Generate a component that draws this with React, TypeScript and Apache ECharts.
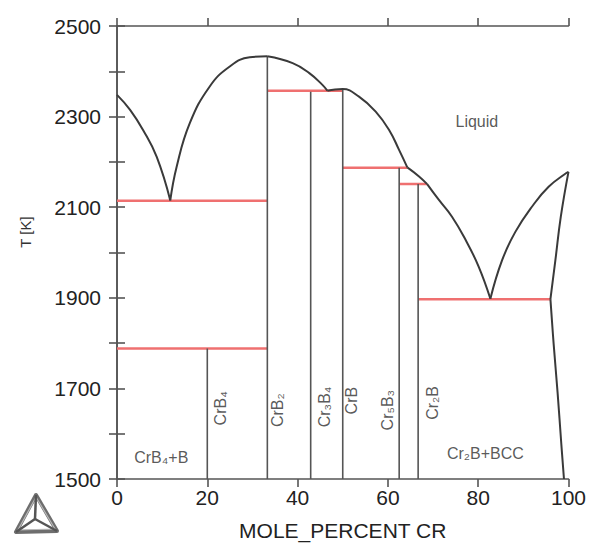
import React, { useEffect, useRef } from "react";
import * as echarts from "echarts";

// ---- Data (MOLE_PERCENT CR vs T [K]) ----
const xLabelValues = [0, 20, 40, 60, 80, 100];
const yLabelValues = [1500, 1700, 1900, 2100, 2300, 2500];

// Liquidus segments
const liquidusB = [[0, 2348], [2.9, 2315], [5.8, 2270], [8.8, 2211], [11.8, 2115]];
const liquidusCrB2Left = [[11.8, 2115], [13.2, 2189], [16.1, 2285], [20.5, 2366], [24.9, 2410], [29.4, 2431], [33.3, 2433]];
const liquidusCrB2Right = [[33.3, 2433], [38.9, 2418], [42.6, 2396], [45.5, 2370], [46.6, 2357]];
const liquidusCrB = [[46.6, 2357], [48.3, 2360], [50, 2361], [53.6, 2344], [57.3, 2311], [60.3, 2270], [62.5, 2226], [64.3, 2188]];
const liquidusCr5B3 = [[64.3, 2188], [66.9, 2168], [68.7, 2151]];
const liquidusCr2B = [[68.7, 2151], [71.3, 2116], [74.2, 2079], [77.2, 2028], [80.1, 1969], [82.7, 1898]];
const liquidusBCC = [[82.7, 1898], [85.3, 1983], [88.2, 2045], [91.9, 2101], [95.6, 2145], [99.6, 2176], [100, 2178]];
// BCC solidus and solvus
const solidusBCC = [[100, 2178], [98.3, 2079], [97.1, 1983], [96, 1897]];
const solvusBCC = [[96, 1897], [96.7, 1800], [97.6, 1689], [98.4, 1579], [99.0, 1500]];

// Invariant (three-phase) reactions: [xStart, xEnd, T]
const invariantX0 = [0, 0, 33.3, 50, 62.5, 66.7];
const invariantX1 = [33.3, 33.3, 50, 64.3, 68.7, 96];
const invariantT = [2114, 1788, 2357, 2187, 2151, 1897];

// Stoichiometric compounds: composition and upper temperature
const compoundNames = ["CrB₄", "CrB₂", "Cr₃B₄", "CrB", "Cr₅B₃", "Cr₂B"];
const compoundX = [20, 33.3, 42.9, 50, 62.5, 66.7];
const compoundTop = [1788, 2433, 2355, 2361, 2187, 2151];

// Phase-region labels
const labelTexts = ["CrB₄", "CrB₂", "Cr₃B₄", "CrB", "Cr₅B₃", "Cr₂B", "CrB₄+B", "Cr₂B+BCC", "Liquid"];
const labelX = [23, 35.6, 45.9, 52, 59.9, 69.8, 9.8, 81.6, 79.7];
const labelT = [1656, 1652, 1659, 1673, 1652, 1668, 1548, 1557, 2290];
const labelRotate = [90, 90, 90, 90, 90, 90, 0, 0, 0];

const FONT = "'Liberation Sans', Arial, Helvetica, sans-serif";
const CURVE = "#3a3a3a";
const AXIS = "#555555";
const RED = "#ef7070";

export default function App() {
  const ref = useRef<HTMLDivElement>(null);

  useEffect(() => {
    if (!ref.current) return;
    const chart = echarts.init(ref.current, undefined, { renderer: "svg" });

    const curves = [
      liquidusB, liquidusCrB2Left, liquidusCrB2Right, liquidusCrB,
      liquidusCr5B3, liquidusCr2B, liquidusBCC, solidusBCC, solvusBCC,
    ];
    const series: any[] = [];
    curves.forEach((d, i) => {
      series.push({
        type: "line", name: "boundary" + i, data: d,
        showSymbol: false, symbol: "none", smooth: 0.45,
        lineStyle: { color: CURVE, width: 2 }, z: 4, silent: true,
      });
    });
    compoundX.forEach((x, i) => {
      series.push({
        type: "line", name: compoundNames[i], data: [[x, 1500], [x, compoundTop[i]]],
        showSymbol: false, symbol: "none",
        lineStyle: { color: AXIS, width: 1.6 }, z: 3, silent: true,
      });
    });
    invariantT.forEach((t, i) => {
      series.push({
        type: "line", name: "inv" + i, data: [[invariantX0[i], t], [invariantX1[i], t]],
        showSymbol: false, symbol: "none",
        lineStyle: { color: RED, width: 2.5 }, z: 2, silent: true,
      });
    });
    labelTexts.forEach((txt, i) => {
      series.push({
        type: "scatter", name: "lbl" + i, symbolSize: 0, silent: true,
        data: [[labelX[i], labelT[i]]],
        label: {
          show: true, position: "inside", formatter: txt, rotate: labelRotate[i],
          color: "#2e2e2e", fontSize: 16, fontFamily: FONT,
          align: "center", verticalAlign: "middle",
        },
        z: 5,
      });
    });

    const axisLineStyle = { color: AXIS, width: 1.6 };
    chart.setOption({
      animation: false,
      backgroundColor: "#ffffff",
      grid: { left: 117, right: 19, top: 26, bottom: 70, containLabel: false },
      xAxis: [
        {
          type: "value", min: 0, max: 100, interval: 20, position: "bottom",
          name: "MOLE_PERCENT CR", nameLocation: "middle", nameGap: 41,
          nameTextStyle: { fontSize: 21, color: "#222", fontFamily: FONT },
          axisLine: { show: true, lineStyle: axisLineStyle },
          axisTick: { show: true, length: 8, lineStyle: axisLineStyle },
          axisLabel: {
            show: true, fontSize: 21, color: "#222", fontFamily: FONT, margin: 8,
            formatter: (v: number) => (xLabelValues.includes(v) ? String(v) : ""),
          },
          splitLine: { show: false },
        },
        {
          type: "value", min: 0, max: 100, interval: 20, position: "top",
          axisLine: { show: true, lineStyle: axisLineStyle },
          axisTick: { show: true, length: 8, lineStyle: axisLineStyle },
          axisLabel: { show: false },
          splitLine: { show: false },
        },
      ],
      yAxis: [
        {
          type: "value", min: 1500, max: 2500, interval: 100, position: "left",
          axisLine: { show: true, lineStyle: axisLineStyle },
          axisTick: { show: true, length: 8, lineStyle: axisLineStyle },
          axisLabel: {
            show: true, fontSize: 21, color: "#222", fontFamily: FONT, margin: 16,
            formatter: (v: number) => (yLabelValues.includes(v) ? String(v) : ""),
          },
          splitLine: { show: false },
        },
        {
          type: "value", min: 1500, max: 2500, interval: 100, position: "right",
          axisLine: { show: true, lineStyle: axisLineStyle },
          axisTick: { show: true, length: 8, lineStyle: axisLineStyle },
          axisLabel: { show: false },
          splitLine: { show: false },
        },
      ],
      graphic: [
        {
          type: "text", x: 25, y: 232, rotation: Math.PI / 2,
          style: {
            text: "T [K]", fontSize: 15, fill: "#333", fontFamily: FONT,
            align: "center", verticalAlign: "middle",
          },
        },
        {
          type: "group",
          children: [
            {
              type: "polygon",
              shape: { points: [[36, 495], [16, 532], [57, 531]] },
              style: { fill: "none", stroke: "#6e6e6e", lineWidth: 4, lineJoin: "round" },
            },
            {
              type: "polygon",
              shape: { points: [[36, 497], [18, 530], [55, 529]] },
              style: { fill: "none", stroke: "#b8b8b8", lineWidth: 1.2, lineJoin: "round" },
            },
            { type: "line", shape: { x1: 35, y1: 519, x2: 36, y2: 495 }, style: { stroke: "#555", lineWidth: 2.5 } },
            { type: "line", shape: { x1: 35, y1: 519, x2: 16, y2: 532 }, style: { stroke: "#555", lineWidth: 2.5 } },
            { type: "line", shape: { x1: 35, y1: 519, x2: 57, y2: 531 }, style: { stroke: "#555", lineWidth: 2.5 } },
          ],
        },
      ],
      series,
    });

    return () => chart.dispose();
  }, []);

  return (
    <div
      ref={ref}
      style={{ position: "fixed", left: 0, top: 0, width: 589, height: 549, background: "#fff" }}
    />
  );
}
